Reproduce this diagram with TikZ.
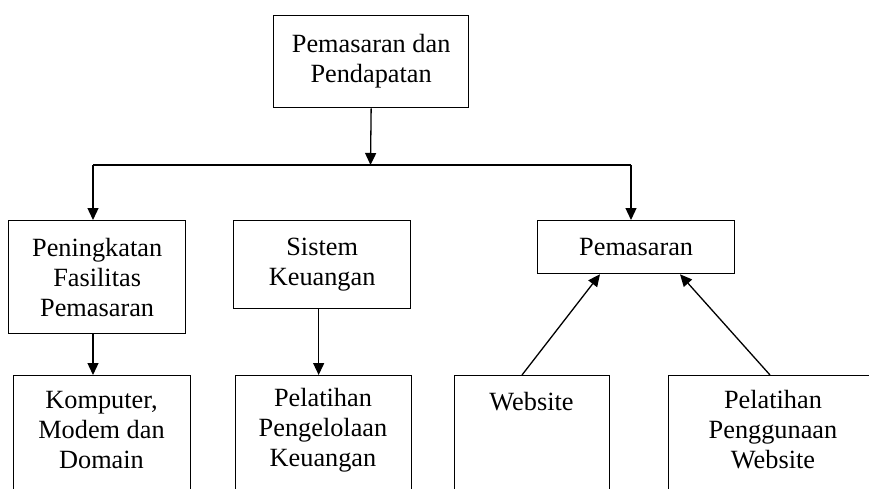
\documentclass[tikz,border=0pt]{standalone}
\usepackage{fontspec}
\setmainfont{Liberation Serif}
\usetikzlibrary{arrows.meta}
\begin{document}
\begin{tikzpicture}[x=1pt,y=-1pt,
  box/.style={draw, line width=1.3pt, inner sep=0pt, anchor=north west, align=center,
              font=\fontsize{26.3}{30}\selectfont},
  txt/.style={align=center, inner sep=0pt, font=\fontsize{26.3}{30}\selectfont},
  ln/.style={line width=1.3pt},
  arr/.style={line width=1.3pt, -{Triangle[length=12pt,width=11pt]}}]
\useasboundingbox (0,0) rectangle (869,489);
\clip (0,0) rectangle (869,489);
% boxes
\node[box, minimum width=195pt, minimum height=92pt] (top) at (273,15) {Pemasaran dan\\Pendapatan};
\node[box, minimum width=177pt, minimum height=113pt] (b1) at (8,220) {Peningkatan\\Fasilitas\\Pemasaran};
\node[box, minimum width=177pt, minimum height=88pt] (b2) at (233,220) {Sistem\\Keuangan};
\node[box, minimum width=197pt, minimum height=53pt] (b3) at (537,220) {Pemasaran};
\node[box, minimum width=177pt, minimum height=150pt] (k) at (13,375) {};
\node[box, minimum width=176pt, minimum height=150pt] (p) at (235,375) {};
\node[box, minimum width=155pt, minimum height=150pt] (w) at (454,375) {};
\node[box, minimum width=210pt, minimum height=150pt] (g) at (668,375) {};
% texts of the cut-off boxes
\node[txt] (kt) at (101.5,430) {Komputer,\\Modem dan\\Domain};
\node[txt] (pt) at (323,430) {Pelatihan\\Pengelolaan\\Keuangan};
\node[txt] (wt) at (531.5,402) {Website};
\node[txt] (gt) at (773,430) {Pelatihan\\Penggunaan\\Website};
% connectors
\coordinate (j) at (370.5,165);
\coordinate (hl) at (93,165);
\coordinate (hr) at (631,165);
\draw[arr] (top.south) -- (j);
\draw[ln] (hl) -- (hr);
\draw[arr] (hl) -- (hl |- b1.north);
\draw[arr] (hr) -- (hr |- b3.north);
\draw[arr] (hl |- b1.south) -- (hl |- k.north);
\draw[arr] ([xshift=-3.5pt]b2.south) -- ([xshift=-3.5pt]b2.south |- p.north);
\draw[arr] ([xshift=68pt]w.north west) -- ([xshift=63pt]b3.south west);
\draw[arr] ([xshift=102pt]g.north west) -- ([xshift=143pt]b3.south west);
\end{tikzpicture}
\end{document}
